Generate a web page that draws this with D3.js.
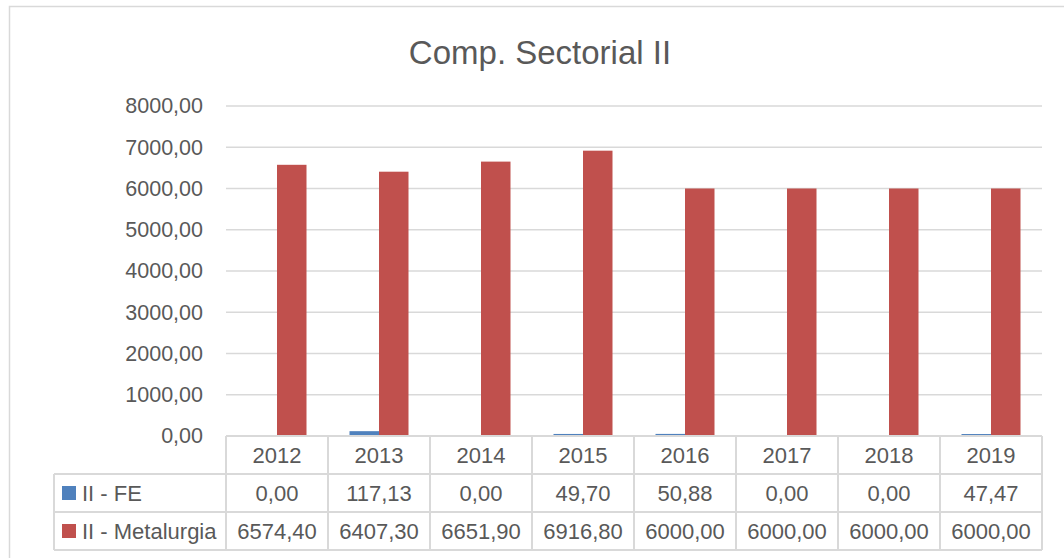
<!DOCTYPE html>
<html>
<head>
<meta charset="utf-8">
<title>Comp. Sectorial II</title>
<script src="https://d3js.org/d3.v7.min.js"></script>
<style>
body { margin: 0; background: #fff; }
svg text { font-family: "Liberation Sans", Arial, sans-serif; fill: #595959; }
</style>
</head>
<body>
<div id="chart"></div>
<script>
// chart data
var years = ["2012", "2013", "2014", "2015", "2016", "2017", "2018", "2019"];
var seriesNames = ["II - FE", "II - Metalurgia"];
var seriesColors = ["#4F81BD", "#C0504D"];
var feValues = [0.00, 117.13, 0.00, 49.70, 50.88, 0.00, 0.00, 47.47];
var metalValues = [6574.40, 6407.30, 6651.90, 6916.80, 6000.00, 6000.00, 6000.00, 6000.00];
var yTicks = [0, 1000, 2000, 3000, 4000, 5000, 6000, 7000, 8000];

var width = 1064, height = 558;
var plotLeft = 226, plotRight = 1042, plotTop = 106, plotBottom = 436;
var tableLeft = 54, rowH = 38;
var gridColor = "#d9d9d9";

var fmt = function(v) { return d3.format(".2f")(v).replace(".", ","); };

var svg = d3.select("#chart").append("svg")
    .attr("width", width)
    .attr("height", height);

// chart border
svg.append("rect")
    .attr("x", 9.5).attr("y", 6.5)
    .attr("width", 1070).attr("height", 570)
    .attr("fill", "#fff")
    .attr("stroke", gridColor).attr("stroke-width", 1.5);

// title
svg.append("text")
    .attr("x", 540).attr("y", 64)
    .attr("text-anchor", "middle")
    .style("font-size", "33px")
    .text("Comp. Sectorial II");

var x = d3.scaleBand().domain(years).range([plotLeft, plotRight]);
var y = d3.scaleLinear().domain([0, 8000]).range([plotBottom, plotTop]);
var groupW = 59;
var xs = d3.scaleBand().domain(seriesNames).range([0, groupW]);

// gridlines
svg.append("g").selectAll("line")
    .data(yTicks.filter(function(d) { return d > 0; }))
    .enter().append("line")
    .attr("x1", plotLeft).attr("x2", plotRight)
    .attr("y1", function(d) { return y(d); })
    .attr("y2", function(d) { return y(d); })
    .attr("stroke", gridColor).attr("stroke-width", 1.5);

// y axis labels
var yAxis = d3.axisLeft(y).tickValues(yTicks).tickFormat(fmt).tickSize(0).tickPadding(23);
var gy = svg.append("g")
    .attr("transform", "translate(" + plotLeft + ",0)")
    .call(yAxis);
gy.select(".domain").remove();
gy.selectAll("text")
    .style("font-size", "21.5px")
    .attr("fill", "#595959")
    .style("font-family", "'Liberation Sans', Arial, sans-serif");

// bars
var series = [feValues, metalValues];
series.forEach(function(vals, si) {
  svg.append("g").selectAll("rect")
      .data(vals)
      .enter().append("rect")
      .attr("x", function(d, i) { return x(years[i]) + (x.bandwidth() - groupW) / 2 + xs(seriesNames[si]); })
      .attr("width", xs.bandwidth())
      .attr("y", function(d) { return y(d); })
      .attr("height", function(d) { return plotBottom - y(d); })
      .attr("fill", seriesColors[si]);
});

// data table
var table = svg.append("g");
var tableBottom = plotBottom + rowH * 3;
// horizontal lines
table.append("line")
    .attr("x1", plotLeft).attr("x2", plotRight)
    .attr("y1", plotBottom).attr("y2", plotBottom)
    .attr("stroke", gridColor).attr("stroke-width", 2);
[1, 2, 3].forEach(function(r) {
  table.append("line")
      .attr("x1", tableLeft).attr("x2", plotRight)
      .attr("y1", plotBottom + rowH * r).attr("y2", plotBottom + rowH * r)
      .attr("stroke", gridColor).attr("stroke-width", 2);
});
// vertical lines
table.append("line")
    .attr("x1", tableLeft).attr("x2", tableLeft)
    .attr("y1", plotBottom + rowH).attr("y2", tableBottom)
    .attr("stroke", gridColor).attr("stroke-width", 2);
years.concat(["end"]).forEach(function(yr) {
  var xx = yr === "end" ? plotRight : x(yr);
  table.append("line")
      .attr("x1", xx).attr("x2", xx)
      .attr("y1", plotBottom).attr("y2", tableBottom)
      .attr("stroke", gridColor).attr("stroke-width", 2);
});
// header
table.selectAll(".yr")
    .data(years)
    .enter().append("text")
    .attr("class", "yr")
    .attr("x", function(d) { return x(d) + x.bandwidth() / 2; })
    .attr("y", plotBottom + rowH / 2 + 8)
    .attr("text-anchor", "middle")
    .style("font-size", "22px")
    .text(function(d) { return d; });
// rows
series.forEach(function(vals, si) {
  var cy = plotBottom + rowH * (si + 1) + rowH / 2;
  table.append("rect")
      .attr("x", 62).attr("y", cy - 7)
      .attr("width", 14).attr("height", 14)
      .attr("fill", seriesColors[si]);
  table.append("text")
      .attr("x", 82).attr("y", cy + 8)
      .style("font-size", "22px")
      .text(seriesNames[si]);
  table.append("g").selectAll("text")
      .data(vals)
      .enter().append("text")
      .attr("x", function(d, i) { return x(years[i]) + x.bandwidth() / 2; })
      .attr("y", cy + 8)
      .attr("text-anchor", "middle")
      .style("font-size", "22px")
      .text(function(d) { return fmt(d); });
});
</script>
</body>
</html>
